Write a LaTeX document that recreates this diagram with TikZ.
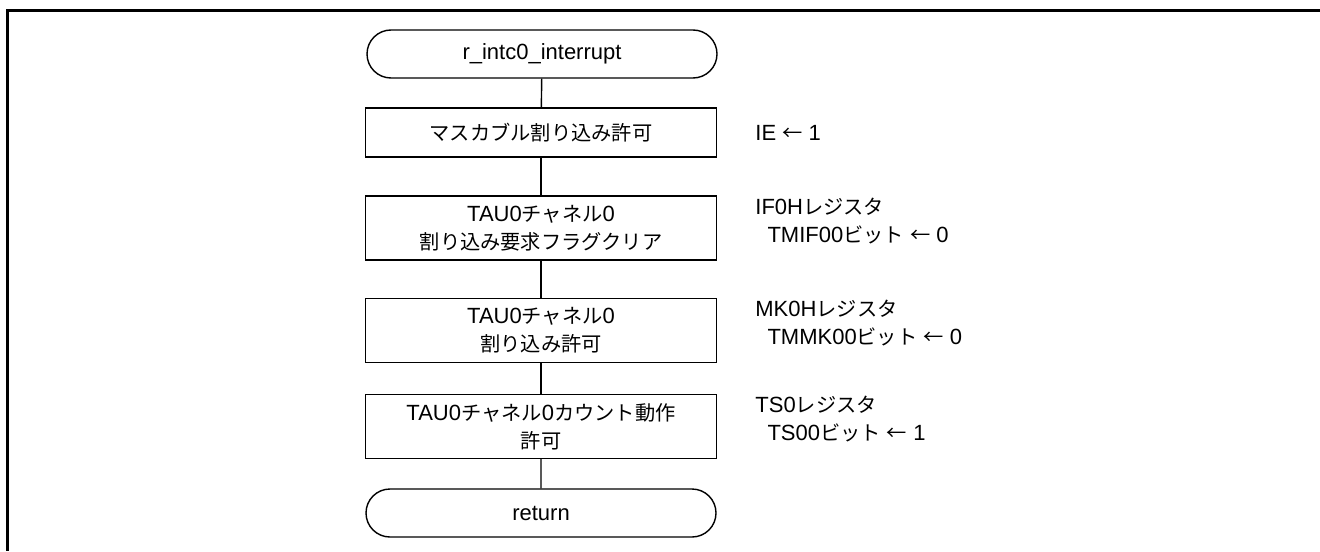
\documentclass[tikz,border=0pt]{standalone}
\usepackage{fontspec}
\setmainfont{Liberation Sans}
\newfontfamily\jp[Scale=0.92]{Noto Sans CJK JP}
\usetikzlibrary{shapes.misc}
\tikzset{
	% flow chart shapes
	terminal/.style={draw,rounded rectangle,minimum width=175pt,minimum height=24pt,inner sep=0pt,line width=0.7pt,font=\fontsize{11}{14}\selectfont},
	process/.style={draw,rectangle,minimum width=175.5pt,minimum height=32pt,inner sep=0pt,align=center,line width=0.7pt,font=\fontsize{11}{14}\selectfont},
	% register notes
	regnote/.style={anchor=west,align=left,inner sep=0pt,font=\fontsize{11}{14}\selectfont},
	flow/.style={line width=0.7pt},
}

\begin{document}
\begin{tikzpicture}[x=0.5pt,y=-0.5pt]
\useasboundingbox (0,0) rectangle (1320,551);
% the frame
\draw[line width=1.5pt] (1320,11) -- (7,11) -- (7,551);
% the flow
\node[terminal] (start) at (542,54) {r\_intc0\_interrupt};
\node[process,minimum height=24.5pt] (mask) at (541,132.5) {\jp マスカブル割り込み許可};
\node[process] (iflag) at (541,228) {TAU0{\jp チャネル}0\\{\jp 割り込み要求フラグクリア}};
\node[process] (imask) at (541,330.5) {TAU0{\jp チャネル}0\\{\jp 割り込み許可}};
\node[process] (count) at (541,426.5) {TAU0{\jp チャネル}0{\jp カウント動作}\\{\jp 許可}};
\node[terminal] (ret) at (541,513) {return};
\foreach \a/\b in {start/mask,mask/iflag,iflag/imask,imask/count,count/ret}
  \draw[flow] (\a) -- (\b);
% the register notes
\node[regnote] (n-mask) at (755,133) {IE {\jp ←} 1};
\node[regnote] (n-iflag) at (755,221) {IF0H{\jp レジスタ}\\\hspace*{0.55em}TMIF00{\jp ビット} {\jp ←} 0};
\node[regnote] (n-imask) at (755,323) {MK0H{\jp レジスタ}\\\hspace*{0.55em}TMMK00{\jp ビット} {\jp ←} 0};
\node[regnote] (n-count) at (755,419) {TS0{\jp レジスタ}\\\hspace*{0.55em}TS00{\jp ビット} {\jp ←} 1};
\end{tikzpicture}
\end{document}
